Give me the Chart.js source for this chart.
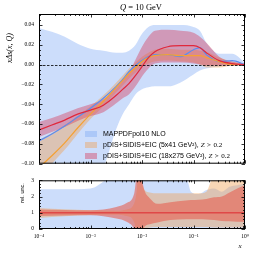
<!DOCTYPE html>
<html><head><meta charset="utf-8">
<script src="https://cdn.jsdelivr.net/npm/chart.js@4"></script>
<style>
html,body{margin:0;padding:0;background:#fff;width:254px;height:254px;overflow:hidden}
#c1{position:absolute;left:0;top:0}
#c2{position:absolute;left:0;top:172px}
</style></head><body>
<canvas id="c1" width="254" height="172"></canvas>
<canvas id="c2" width="254" height="82"></canvas>
<script>
// ---------- data ----------
const xMain = [1e-4,1.778e-4,3.162e-4,5.623e-4,1e-3,1.778e-3,3.162e-3,4.217e-3,5.623e-3,7.499e-3,1e-2,1.334e-2,1.778e-2,3.162e-2,5.623e-2,0.1,0.1334,0.1778,0.3162,0.5623,1];
const blueCentral   = [-0.077,-0.070,-0.062,-0.053,-0.044,-0.034,-0.022,-0.015,-0.007,-0.001,0.004,0.008,0.010,0.010,0.008,0.015,0.017,0.010,0.003,0.004,0.000];
const blueUpper     = [0.037,0.033,0.028,0.021,0.016,0.014,0.012,0.012,0.014,0.020,0.031,0.038,0.040,0.040,0.040,0.038,0.034,0.022,0.011,0.011,0.002];
const blueLower     = [-0.20,-0.19,-0.17,-0.15,-0.13,-0.105,-0.065,-0.050,-0.040,-0.030,-0.025,-0.023,-0.022,-0.022,-0.018,-0.010,-0.006,-0.004,-0.002,-0.001,-0.001];
const orangeCentral = [-0.104,-0.092,-0.079,-0.064,-0.050,-0.037,-0.023,-0.016,-0.009,-0.003,0.003,0.007,0.009,0.010,0.009,0.009,0.009,0.007,0.003,0.000,0.000];
const orangeUpper   = [-0.076,-0.069,-0.061,-0.052,-0.042,-0.031,-0.018,-0.011,-0.004,0.002,0.008,0.012,0.015,0.016,0.015,0.015,0.014,0.013,0.007,0.003,0.001];
const orangeLower   = [-0.115,-0.100,-0.086,-0.070,-0.055,-0.042,-0.028,-0.021,-0.014,-0.008,-0.002,0.001,0.003,0.004,0.003,0.002,0.000,-0.003,-0.003,-0.001,-0.0005];
const redCentral    = [-0.066,-0.061,-0.056,-0.050,-0.046,-0.041,-0.031,-0.025,-0.019,-0.011,-0.002,0.007,0.013,0.018,0.019,0.019,0.017,0.012,0.004,0.001,0.000];
const redUpper      = [-0.058,-0.054,-0.049,-0.044,-0.040,-0.035,-0.024,-0.016,-0.008,0.005,0.018,0.028,0.034,0.035,0.034,0.032,0.028,0.022,0.008,0.003,0.001];
const redLower      = [-0.073,-0.068,-0.063,-0.057,-0.052,-0.048,-0.039,-0.034,-0.030,-0.022,-0.012,-0.004,0.001,0.002,0.002,0.001,0.000,-0.001,-0.001,-0.001,-0.0005];

const xRatio = [1e-4,3.162e-4,1e-3,3.162e-3,5.012e-3,7.079e-3,7.943e-3,8.511e-3,9.120e-3,1e-2,1.122e-2,1.413e-2,1.995e-2,3.548e-2,7.079e-2,8.913e-2,0.1259,0.1778,0.2512,0.3548,0.5012,0.7079,1];
const blueRelUpper   = [2.45,2.45,2.5,3.3,3.3,3.5,3.5,3.5,3.5,3.5,3.5,3.5,3.5,3.5,3.3,2.3,2.15,2.4,2.5,2.3,2.6,2.7,2.8];
const blueRelLower   = [-1,-1,-1,-1,-1,-1,-1,-1,-1,-1,-1,-1,-1,-1,-1,-1,-1,-1,-1,-1,-1,-1,-1];
const orangeRelUpper = [1.30,1.22,1.15,1.12,1.2,1.6,2.5,4,3.5,2.8,2.4,2.25,2.2,2.2,2.2,2.2,2.2,2.3,3.3,3.3,3.2,3.3,3.3];
const orangeRelLower = [0.68,0.78,0.86,0.88,0.8,0.4,-0.5,-1,-0.5,0.0,0.05,0.1,0.12,0.12,0.12,0.12,0.12,0.12,0.1,0.1,0.1,0.1,0.1];
const redRelUpper    = [1.20,1.17,1.15,1.35,1.6,2.2,3.5,4,3.5,3.0,2.35,1.9,1.55,1.65,1.75,1.78,1.8,1.85,1.95,2.0,2.25,2.5,2.7];
const redRelLower    = [0.80,0.83,0.85,0.65,0.45,0.0,-0.5,-1,-0.5,-0.2,0.15,0.3,0.4,0.55,0.6,0.6,0.6,0.58,0.55,0.5,0.47,0.45,0.45];
const refLineX = [1e-4, 1];
const refLineY = [1, 1];

const xTickValues = [1e-4,1e-3,1e-2,1e-1,1];
const xTickLabels = ['10\u207B\u2074','10\u207B\u00B3','10\u207B\u00B2','10\u207B\u00B9','10\u2070'];
const yTicksMain  = [-0.10,-0.08,-0.06,-0.04,-0.02,0.00,0.02,0.04];
const yTicksRatio = [0,1,2,3];

const seriesLabels = ['MAPPDFpol10 NLO','pDIS+SIDIS+EIC (5x41 GeV\u00B2), ','pDIS+SIDIS+EIC (18x275 GeV\u00B2), '];

// ---------- styles ----------
const blueFill='rgba(120,165,245,0.38)', orangeFill='rgba(240,160,80,0.42)', redFill='rgba(215,60,90,0.42)';
const redFillRatio='rgba(230,95,80,0.6)';
const blueLine='#5b8def', orangeLine='#f5a133', redLine='#e0283c';
const SERIF='"Liberation Serif", "DejaVu Serif", serif';
const SANS='"Liberation Sans", Arial, sans-serif';

const pts=(xs,ys)=>xs.map((x,i)=>({x:x,y:ys[i]}));
function bandSets(xs,up,lo,color,order,idx){
  return [
    {data:pts(xs,up),borderWidth:0,pointRadius:0,backgroundColor:color,fill:idx+1,order:order,cubicInterpolationMode:'monotone',clip:0},
    {data:pts(xs,lo),borderWidth:0,pointRadius:0,backgroundColor:'rgba(0,0,0,0)',fill:false,order:order,cubicInterpolationMode:'monotone',clip:0}
  ];
}
function lineSet(xs,ys,color,order,w){
  return {data:pts(xs,ys),borderColor:color,borderWidth:w,pointRadius:0,fill:false,order:order,cubicInterpolationMode:'monotone',clip:0};
}

function framePlugin(yMin,yMax,yMajor,yMinorStep){
  return {id:'frame',afterDatasetsDraw(chart){
    const {ctx,chartArea:a,scales:{x,y}}=chart;
    ctx.save();
    ctx.strokeStyle='#000';ctx.lineWidth=0.8;
    ctx.beginPath();
    const L=3.5,l=2;
    for(let k=-4;k<=0;k++){
      for(let m=1;m<=9;m++){
        const v=m*Math.pow(10,k); if(v>1.0000001) break;
        const p=Math.round(x.getPixelForValue(v))+0.5; const len=(m===1)?L:l;
        ctx.moveTo(p,a.bottom);ctx.lineTo(p,a.bottom-len);
        ctx.moveTo(p,a.top);ctx.lineTo(p,a.top+len);
      }
    }
    const n=Math.round((yMax-yMin)/yMinorStep);
    for(let i=0;i<=n;i++){
      const v=yMin+i*yMinorStep;
      const major=yMajor.some(t=>Math.abs(t-v)<1e-9);
      const p=Math.round(y.getPixelForValue(v))+0.5; const len=major?L:l;
      ctx.moveTo(a.left,p);ctx.lineTo(a.left+len,p);
      ctx.moveTo(a.right,p);ctx.lineTo(a.right-len,p);
    }
    ctx.stroke();
    ctx.lineWidth=1;
    ctx.strokeRect(a.left+0.5,a.top+0.5,a.right-a.left-1,a.bottom-a.top-1);
    ctx.restore();
  }};
}

const zeroLine={id:'zero',afterDatasetsDraw(chart){
  const {ctx,chartArea:a,scales:{y}}=chart;
  const p=Math.round(y.getPixelForValue(0))+0.5;
  ctx.save();ctx.strokeStyle='#000';ctx.lineWidth=0.8;ctx.setLineDash([2.5,1.5]);
  ctx.beginPath();ctx.moveTo(a.left,p);ctx.lineTo(a.right,p);ctx.stroke();ctx.restore();
}};

const textTop={id:'textTop',afterDraw(chart){
  const ctx=chart.ctx; ctx.save(); ctx.fillStyle='#000'; ctx.textBaseline='middle';
  // title
  ctx.font='italic 8.5px '+SERIF; const q='Q'; const wq=ctx.measureText(q).width;
  ctx.font='8.5px '+SERIF; const rest=' = 10 GeV'; const wr=ctx.measureText(rest).width;
  let x0=141-(wq+wr)/2;
  ctx.font='italic 8.5px '+SERIF; ctx.fillText(q,x0,7.5);
  ctx.font='8.5px '+SERIF; ctx.fillText(rest,x0+wq,7.5);
  // y label
  ctx.translate(10,48); ctx.rotate(-Math.PI/2);
  ctx.textAlign='center'; ctx.font='italic 8px '+SERIF; ctx.fillText('x\u0394s(x, Q)',0,0);
  ctx.restore();
  // legend
  ctx.save(); ctx.textBaseline='middle';
  const cols=[blueFill,orangeFill,redFill]; const ys=[134,145,156];
  for(let i=0;i<3;i++){
    ctx.fillStyle=cols[i]; ctx.fillRect(85,ys[i]-3,12,6);
    ctx.fillStyle='#000'; ctx.font='7px '+SANS; ctx.fillText(seriesLabels[i],103,ys[i]);
    if(i>0){
      const w=ctx.measureText(seriesLabels[i]).width; let xx=103+w;
      ctx.font='italic 7px '+SERIF; ctx.fillText('Z',xx,ys[i]); xx+=ctx.measureText('Z').width+2.5;
      ctx.font='7px '+SERIF; ctx.fillText('>',xx,ys[i]); xx+=ctx.measureText('>').width+2.5;
      ctx.fillText('0.2',xx,ys[i]);
    }
  }
  ctx.restore();
}};

const textBottom={id:'textBottom',afterDraw(chart){
  const ctx=chart.ctx; ctx.save(); ctx.fillStyle='#000'; ctx.textBaseline='middle';
  ctx.font='italic 7px '+SERIF; ctx.textAlign='center'; ctx.fillText('x',240,74);
  ctx.translate(22,21); ctx.rotate(-Math.PI/2);
  ctx.font='5.5px '+SANS; ctx.fillText('rel. unc.',0,0);
  ctx.restore();
}};

const fmtY=v=>(v<0?'\u2212':'')+Math.abs(v).toFixed(2);

new Chart(document.getElementById('c1'),{
  type:'line',
  data:{datasets:[
    ...bandSets(xMain,blueUpper,blueLower,blueFill,6,0),
    ...bandSets(xMain,orangeUpper,orangeLower,orangeFill,5,2),
    ...bandSets(xMain,redUpper,redLower,redFill,4,4),
    lineSet(xMain,blueCentral,blueLine,3,1.2),
    lineSet(xMain,orangeCentral,orangeLine,2,1.2),
    lineSet(xMain,redCentral,redLine,1,1.2)
  ]},
  options:{responsive:false,animation:false,events:[],
    layout:{padding:{left:0,right:9,top:14,bottom:5}},
    plugins:{legend:{display:false},tooltip:{enabled:false},title:{display:false}},
    scales:{
      x:{type:'logarithmic',min:1e-4,max:1,display:false},
      y:{type:'linear',min:-0.1,max:0.051,
        afterFit(s){s.width=39;},
        afterBuildTicks(s){s.ticks=yTicksMain.map(v=>({value:v}));},
        grid:{display:false,drawTicks:false},border:{display:false},
        ticks:{padding:5,color:'#000',font:{family:SERIF,size:5.5},callback:v=>fmtY(v)}}
    }},
  plugins:[framePlugin(-0.1,0.05,yTicksMain,0.005),zeroLine,textTop]
});

new Chart(document.getElementById('c2'),{
  type:'line',
  data:{datasets:[
    ...bandSets(xRatio,blueRelUpper,blueRelLower,blueFill,6,0),
    ...bandSets(xRatio,orangeRelUpper,orangeRelLower,orangeFill,5,2),
    ...bandSets(xRatio,redRelUpper,redRelLower,redFillRatio,4,4),
    {data:pts(refLineX,refLineY),borderColor:'#e04848',borderWidth:1.5,pointRadius:0,fill:false,order:1,clip:0}
  ]},
  options:{responsive:false,animation:false,events:[],
    layout:{padding:{left:0,right:9,top:6,bottom:0}},
    plugins:{legend:{display:false},tooltip:{enabled:false}},
    scales:{
      x:{type:'logarithmic',min:1e-4,max:1,
        afterFit(s){s.height=25;},
        afterBuildTicks(s){s.ticks=xTickValues.map(v=>({value:v}));},
        grid:{display:false,drawTicks:false},border:{display:false},
        ticks:{padding:4,color:'#000',maxRotation:0,autoSkip:false,font:{family:SERIF,size:5.5},
          callback:(v)=>{const i=xTickValues.findIndex(t=>Math.abs(t-v)/t<1e-6);return i>=0?xTickLabels[i]:'';}}},
      y:{type:'linear',min:0,max:3,
        afterFit(s){s.width=39;},
        afterBuildTicks(s){s.ticks=yTicksRatio.map(v=>({value:v}));},
        grid:{display:false,drawTicks:false},border:{display:false},
        ticks:{padding:5,color:'#000',font:{family:SERIF,size:5.5},callback:v=>String(v)}}
    }},
  plugins:[framePlugin(0,3,yTicksRatio,0.2),textBottom]
});
</script>
</body></html>
